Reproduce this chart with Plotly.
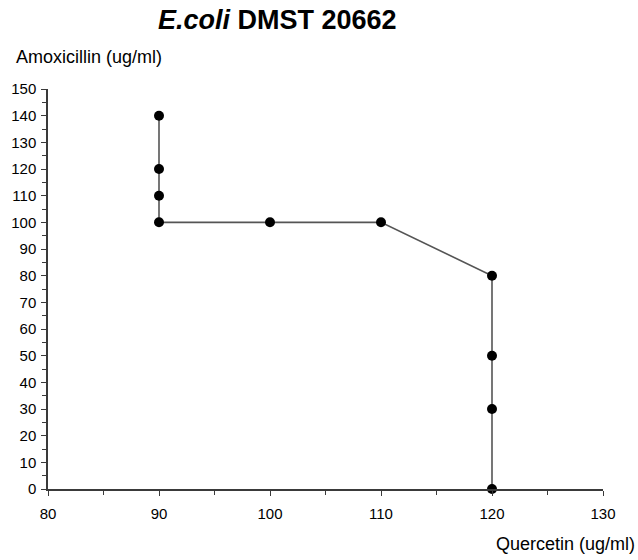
import plotly.graph_objects as go

# Checkerboard isobologram points: Quercetin vs Amoxicillin concentrations
quercetin = [90, 90, 90, 90, 100, 110, 120, 120, 120, 120]
amoxicillin = [140, 120, 110, 100, 100, 100, 80, 50, 30, 0]

x_ticks = [80, 90, 100, 110, 120, 130]
y_ticks = list(range(0, 151, 10))

FONT = "Liberation Sans, Arial, sans-serif"
AXIS_COLOR = "#3a3a3a"

fig = go.Figure()
fig.add_trace(go.Scatter(
    x=quercetin, y=amoxicillin,
    mode="lines+markers",
    line=dict(color="#555555", width=1.6),
    marker=dict(color="black", size=10),
    cliponaxis=False,
    showlegend=False,
))

axis_common = dict(
    showgrid=False, zeroline=False,
    showline=True, linecolor=AXIS_COLOR, linewidth=1.5,
    ticks="outside", ticklen=5, tickwidth=1.2, tickcolor=AXIS_COLOR,
    tickfont=dict(family=FONT, size=15, color="black"),
)

fig.update_xaxes(
    range=[80, 130], tickvals=x_ticks, ticktext=[str(v) for v in x_ticks],
    ticklabelstandoff=5,
    minor=dict(dtick=5, ticks="outside", ticklen=4, tickcolor=AXIS_COLOR, tickwidth=1.2),
    **axis_common,
)
fig.update_yaxes(
    range=[0, 150], tickvals=y_ticks, ticktext=[str(v) for v in y_ticks],
    ticklabelstandoff=2,
    minor=dict(dtick=5, ticks="outside", ticklen=4, tickcolor=AXIS_COLOR, tickwidth=1.2),
    **axis_common,
)

fig.update_layout(
    width=638, height=560,
    margin=dict(l=48, r=35, t=89, b=71),
    paper_bgcolor="white", plot_bgcolor="white",
    title=dict(
        text="<b><i>E.coli</i> DMST 20662</b>",
        xref="container", x=158 / 638, xanchor="left",
        yref="container", y=1 - 20 / 560, yanchor="middle",
        font=dict(family=FONT, size=27, color="black"),
    ),
    annotations=[
        dict(text="Amoxicillin (ug/ml)", xref="paper", yref="paper",
             x=-0.061, y=1.08, xanchor="left", yanchor="middle", showarrow=False,
             font=dict(family=FONT, size=18, color="black")),
        dict(text="Quercetin (ug/ml)", xref="paper", yref="paper",
             x=1.061, y=-0.138, xanchor="right", yanchor="middle", showarrow=False,
             font=dict(family=FONT, size=18, color="black")),
    ],
)

fig.write_html("out.html")
